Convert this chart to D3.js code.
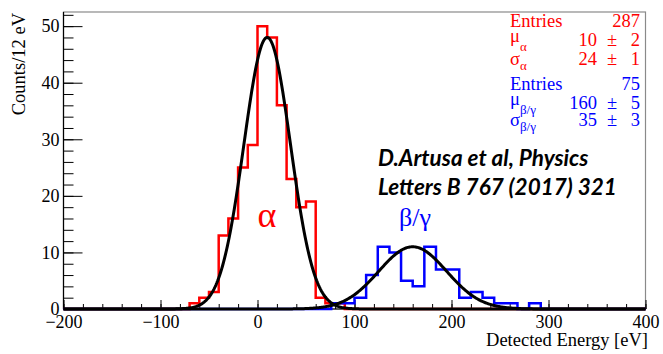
<!DOCTYPE html>
<html><head><meta charset="utf-8">
<script src="https://cdn.jsdelivr.net/npm/d3@7"></script>
<style>
html,body{margin:0;padding:0;background:#fff;}
svg{display:block;}
</style></head><body>
<svg id="chart" width="663" height="354"></svg>
<script>
// Energy axis (eV) and count axis ranges
const energyRange = [-200, 400];
const countRange = [0, 52.5];

// Alpha spectrum: 10 eV bins starting at -200 eV
const alphaBinStart = -200;
const alphaBinWidth = 10;
const alphaCounts = [
  0, 0, 0, 0, 0, 0, 0, 0, 0, 0, 0, 0, 0,
  1, 2, 3, 13, 16, 25, 29, 50, 48, 36, 23, 18, 19, 2, 1, 1,
  0, 0, 0, 0, 0, 0, 0, 0, 0, 0, 0, 0, 0, 0, 0, 0,
  0, 0, 0, 0, 0, 0, 0, 0, 0, 0, 0, 0, 0, 0, 0
];

// Beta/gamma spectrum: 12 eV bins starting at -200 eV
const betaBinStart = -200;
const betaBinWidth = 12;
const betaCounts = [
  0, 0, 0, 0, 0, 0, 0, 0, 0, 0, 0, 0, 0, 0, 0, 0, 0, 0, 0, 0, 0, 0, 0,
  1, 1, 2, 6, 11, 10, 5, 4, 11, 7, 7, 2, 3, 2, 1, 1, 0, 1,
  0, 0, 0, 0, 0, 0, 0, 0, 0
];

// Gaussian fits: [amplitude, mean, sigma]
const alphaFit = [48, 10, 24];
const betaFit = [11, 160, 35];

// Axis ticks
const xMajorTicks = [-200, -100, 0, 100, 200, 300, 400];
const xMinorStep = 20;
const yMajorTicks = [0, 10, 20, 30, 40, 50];
const yMinorStep = 2;

// Statistics box rows: [symbol, subscript, value, error]
const alphaEntries = ["Entries", "287"];
const alphaStats = [["\u03bc", "\u03b1", "10", "2"], ["\u03c3", "\u03b1", "24", "1"]];
const betaEntries = ["Entries", "75"];
const betaStats = [["\u03bc", "\u03b2/\u03b3", "160", "5"], ["\u03c3", "\u03b2/\u03b3", "35", "3"]];

const citation = ["D.Artusa et al, Physics", "Letters B 767 (2017) 321"];

const RED = "#ff0000", BLUE = "#0000ff";
const serif = "'Liberation Serif', 'Times New Roman', serif";

const svg = d3.select("#chart");
const frame = {left: 63.5, right: 645.5, top: 12, bottom: 309};

const x = d3.scaleLinear().domain(energyRange).range([frame.left, frame.right]);
const y = d3.scaleLinear().domain(countRange).range([frame.bottom, frame.top]);

// Frame (top/right drawn grey, axes black)
svg.append("rect")
  .attr("x", frame.left).attr("y", frame.top)
  .attr("width", frame.right - frame.left).attr("height", frame.bottom - frame.top)
  .attr("fill", "none").attr("stroke", "#8a8a8a").attr("stroke-width", 1.2);

// Axes
function styleAxis(g) {
  g.select(".domain").remove();
  g.selectAll("line").attr("stroke", "#000").attr("stroke-width", 1);
  g.selectAll("text").attr("font-family", serif).attr("font-size", 18).attr("fill", "#000");
}

svg.append("g").attr("transform", `translate(0,${frame.bottom})`)
  .call(d3.axisBottom(x).tickValues(d3.range(energyRange[0], energyRange[1] + 1, xMinorStep))
    .tickSize(-5).tickFormat(""))
  .call(styleAxis);
svg.append("g").attr("transform", `translate(0,${frame.bottom})`)
  .call(d3.axisBottom(x).tickValues(xMajorTicks).tickSize(-9).tickPadding(6).tickFormat(d3.format("d")))
  .call(styleAxis);

svg.append("g").attr("transform", `translate(${frame.left},0)`)
  .call(d3.axisLeft(y).tickValues(d3.range(0, countRange[1], yMinorStep))
    .tickSize(-10).tickFormat(""))
  .call(styleAxis);
svg.append("g").attr("transform", `translate(${frame.left},0)`)
  .call(d3.axisLeft(y).tickValues(yMajorTicks).tickSize(-19).tickPadding(4).tickFormat(d3.format("d")))
  .call(styleAxis);

svg.append("line").attr("x1", frame.left).attr("x2", frame.left)
  .attr("y1", frame.top).attr("y2", frame.bottom).attr("stroke", "#000").attr("stroke-width", 1.2);
svg.append("line").attr("x1", frame.left).attr("x2", frame.right)
  .attr("y1", frame.bottom).attr("y2", frame.bottom).attr("stroke", "#000").attr("stroke-width", 1.2);

// Axis titles
svg.append("text")
  .attr("transform", `translate(25,${frame.top + 1}) rotate(-90)`)
  .attr("text-anchor", "end")
  .attr("font-family", serif).attr("font-size", 18.5).attr("fill", "#000")
  .text("Counts/12 eV");
svg.append("text")
  .attr("x", 648).attr("y", 346).attr("text-anchor", "end")
  .attr("font-family", serif).attr("font-size", 18.5).attr("fill", "#000")
  .text("Detected Energy [eV]");

// Histograms drawn as outlined steps
const stepLine = d3.line().x(d => x(d[0])).y(d => y(d[1])).curve(d3.curveStepAfter);
function stepPoints(start, width, counts) {
  const pts = counts.map((c, i) => [start + i * width, c]);
  pts.push([start + counts.length * width, counts[counts.length - 1]]);
  return pts;
}
svg.append("path").datum(stepPoints(alphaBinStart, alphaBinWidth, alphaCounts))
  .attr("d", stepLine).attr("fill", "none").attr("stroke", RED).attr("stroke-width", 2.5);
svg.append("path").datum(stepPoints(betaBinStart, betaBinWidth, betaCounts))
  .attr("d", stepLine).attr("fill", "none").attr("stroke", BLUE).attr("stroke-width", 2.5);

// Gaussian fit curves
const curveLine = d3.line().x(d => x(d[0])).y(d => y(d[1]));
function gauss([a, m, s]) {
  return d3.range(energyRange[0], energyRange[1] + 0.5, 1)
    .map(e => [e, a * Math.exp(-0.5 * ((e - m) / s) ** 2)]);
}
[alphaFit, betaFit].forEach(p => {
  svg.append("path").datum(gauss(p)).attr("d", curveLine)
    .attr("fill", "none").attr("stroke", "#000").attr("stroke-width", 3);
});

// Peak labels
svg.append("text").attr("x", 267).attr("y", 227).attr("text-anchor", "middle")
  .attr("font-family", serif).attr("font-size", 36).attr("fill", RED).text("\u03b1");
svg.append("text").attr("x", 399).attr("y", 226)
  .attr("font-family", serif).attr("font-size", 26).attr("fill", BLUE).text("\u03b2/\u03b3");

// Statistics box
function statsBlock(entries, rows, color, y0, y1, y2) {
  const g = svg.append("g").attr("font-family", serif).attr("font-size", 18.5).attr("fill", color);
  g.append("text").attr("x", 510).attr("y", y0).text(entries[0]);
  g.append("text").attr("x", 640).attr("y", y0).attr("text-anchor", "end").text(entries[1]);
  [y1, y2].forEach((yy, i) => {
    const [sym, sub, val, err] = rows[i];
    const t = g.append("text").attr("x", 510).attr("y", yy - (sym === "\u03bc" ? 4 : 0));
    t.append("tspan").text(sym);
    t.append("tspan").attr("font-size", 13).attr("dy", sym === "\u03bc" ? 9 : 5).text(sub);
    g.append("text").attr("x", 597).attr("y", yy).attr("text-anchor", "end").text(val);
    g.append("text").attr("x", 612).attr("y", yy).attr("text-anchor", "middle").text("\u00b1");
    g.append("text").attr("x", 640).attr("y", yy).attr("text-anchor", "end").text(err);
  });
}
statsBlock(alphaEntries, alphaStats, RED, 27, 46, 65);
statsBlock(betaEntries, betaStats, BLUE, 90, 109, 126);

// Reference note
const note = svg.append("text").attr("font-family", "Lato, 'Open Sans', sans-serif")
  .attr("font-weight", "bold").attr("font-style", "italic").attr("font-size", 22.5).attr("fill", "#000");
note.append("tspan").attr("x", 378).attr("y", 166).text(citation[0]);
note.append("tspan").attr("x", 378).attr("y", 195).text(citation[1]);
</script>
</body></html>
